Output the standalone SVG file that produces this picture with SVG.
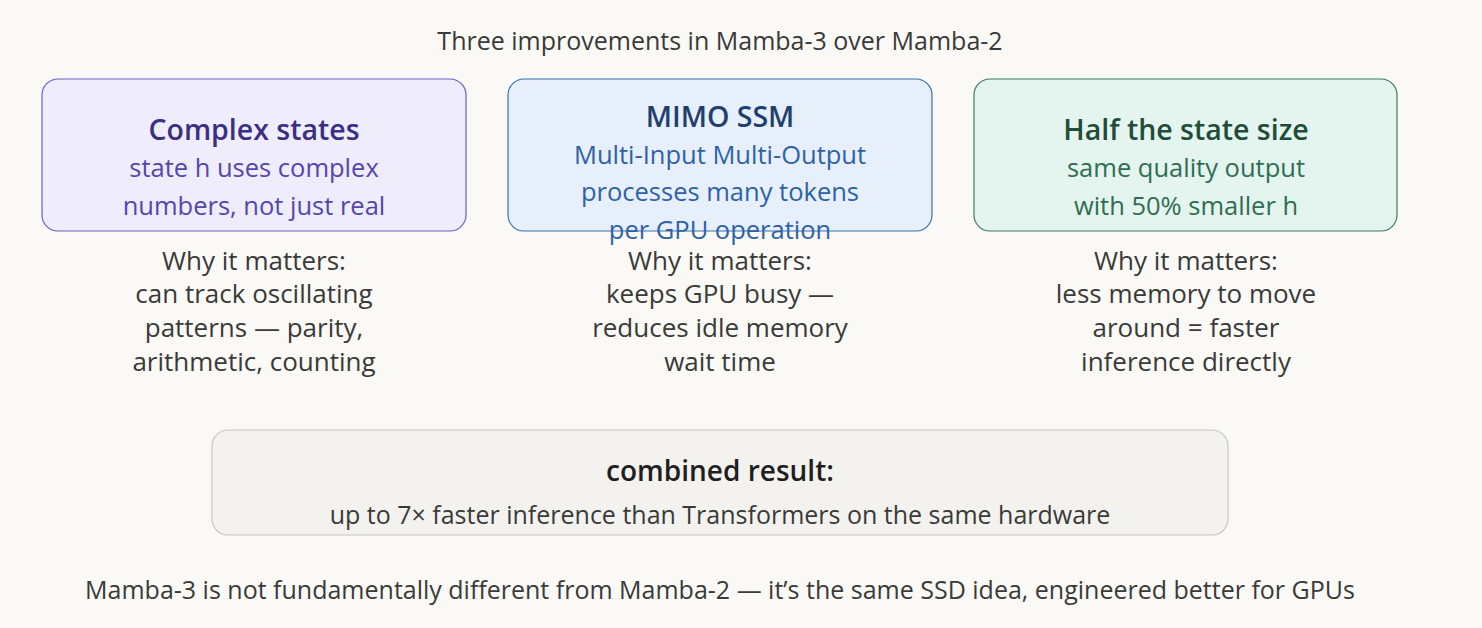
<svg xmlns="http://www.w3.org/2000/svg" width="1482" height="628" viewBox="0 0 1482 628">
<style>
text{font-family:"Open Sans","Noto Sans",sans-serif;text-anchor:middle}
.t{font-size:28.5px;font-weight:600}
.s{font-size:25.5px}
.b{font-size:26px;fill:#3a3a38}
</style>
<rect width="1482" height="628" fill="#faf9f5"/>
<text x="720" y="50" font-size="25" fill="#3a3a38">Three improvements in Mamba-3 over Mamba-2</text>
<g id="complex">
<rect x="42" y="79" width="424" height="152" rx="16" fill="#efedfc" stroke="#6a5fc4" stroke-width="1.2"/>
<text x="254" y="140" class="t" fill="#3a2f85">Complex states</text>
<text x="254" y="177" class="s" fill="#5446b0">state h uses complex</text>
<text x="254" y="215" class="s" fill="#5446b0">numbers, not just real</text>
</g>
<g id="mimo">
<rect x="508" y="79" width="424" height="152" rx="16" fill="#e7f0fa" stroke="#3c6fb0" stroke-width="1.2"/>
<text x="720" y="127" class="t" fill="#1f3f6e">MIMO SSM</text>
<text x="720" y="164" class="s" fill="#2e62a8">Multi-Input Multi-Output</text>
<text x="720" y="201" class="s" fill="#2e62a8">processes many tokens</text>
<text x="720" y="239" class="s" fill="#2e62a8">per GPU operation</text>
</g>
<g id="half">
<rect x="974" y="79" width="423" height="152" rx="16" fill="#e4f4ee" stroke="#3f7a62" stroke-width="1.2"/>
<text x="1186" y="140" class="t" fill="#1f4d3a">Half the state size</text>
<text x="1186" y="177" class="s" fill="#2f6e53">same quality output</text>
<text x="1186" y="215" class="s" fill="#2f6e53">with 50% smaller h</text>
</g>
<g id="why1">
<text x="254" y="270" class="b">Why it matters:</text>
<text x="254" y="303" class="b">can track oscillating</text>
<text x="254" y="337" class="b">patterns — parity,</text>
<text x="254" y="371" class="b">arithmetic, counting</text>
</g>
<g id="why2">
<text x="720" y="270" class="b">Why it matters:</text>
<text x="720" y="303" class="b">keeps GPU busy —</text>
<text x="720" y="337" class="b">reduces idle memory</text>
<text x="720" y="371" class="b">wait time</text>
</g>
<g id="why3">
<text x="1186" y="270" class="b">Why it matters:</text>
<text x="1186" y="303" class="b">less memory to move</text>
<text x="1186" y="337" class="b">around = faster</text>
<text x="1186" y="371" class="b">inference directly</text>
</g>
<g id="combined">
<rect x="212" y="430" width="1016" height="105" rx="16" fill="#f3f2ee" stroke="#c8c6c0" stroke-width="1.2"/>
<text x="720" y="481" font-size="28" font-weight="600" fill="#1f1f1e">combined result:</text>
<text x="720" y="524" font-size="25" fill="#3a3a38">up to 7× faster inference than Transformers on the same hardware</text>
</g>
<g id="connectors"/>
<text x="720" y="599" font-size="25" fill="#3a3a38">Mamba-3 is not fundamentally different from Mamba-2 — it’s the same SSD idea, engineered better for GPUs</text>
</svg>
